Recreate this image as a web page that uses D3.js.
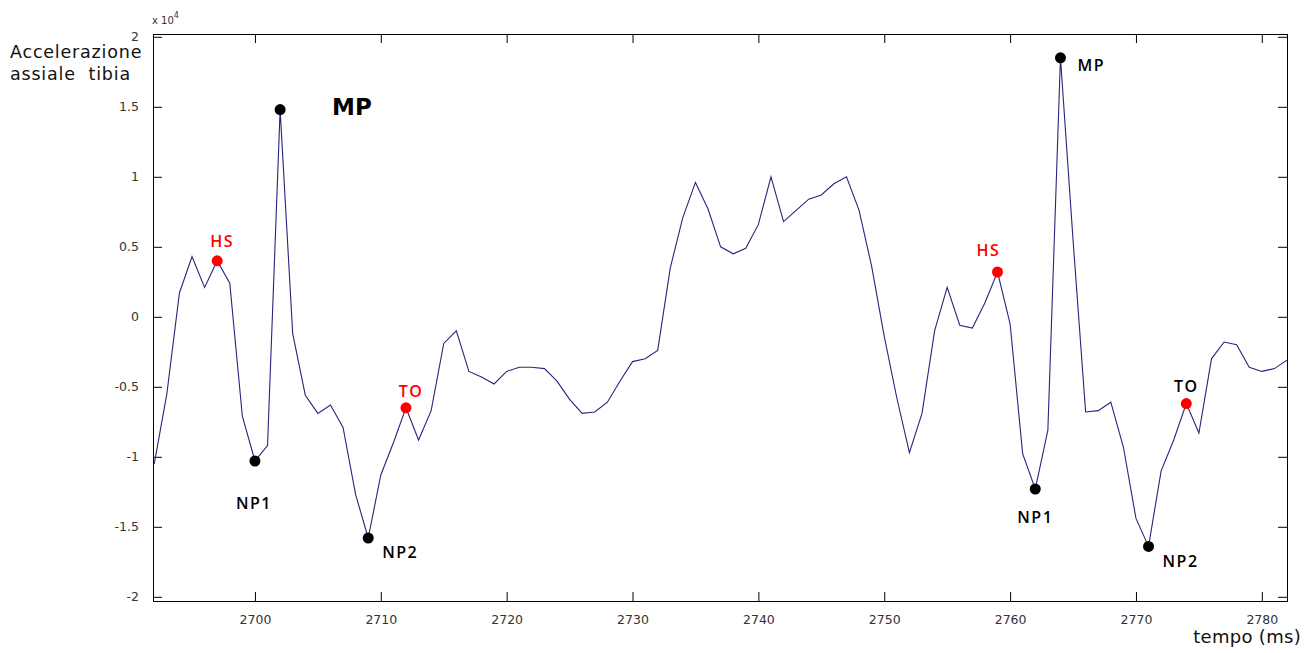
<!DOCTYPE html>
<html>
<head>
<meta charset="utf-8">
<script src="https://cdn.jsdelivr.net/npm/d3@7"></script>
<style>
  body { margin: 0; background: #fff; }
  svg { display: block; }
  .tick text { font-family: "DejaVu Sans", sans-serif; font-size: 12.5px; fill: #333; }
</style>
</head>
<body>
<script>
// sample times (ms) and acceleration values (x 10^4)
var times = [2692, 2693, 2694, 2695, 2696, 2697, 2698, 2699, 2700, 2701,
             2702, 2703, 2704, 2705, 2706, 2707, 2708, 2709, 2710, 2711,
             2712, 2713, 2714, 2715, 2716, 2717, 2718, 2719, 2720, 2721,
             2722, 2723, 2724, 2725, 2726, 2727, 2728, 2729, 2730, 2731,
             2732, 2733, 2734, 2735, 2736, 2737, 2738, 2739, 2740, 2741,
             2742, 2743, 2744, 2745, 2746, 2747, 2748, 2749, 2750, 2751,
             2752, 2753, 2754, 2755, 2756, 2757, 2758, 2759, 2760, 2761,
             2762, 2763, 2764, 2765, 2766, 2767, 2768, 2769, 2770, 2771,
             2772, 2773, 2774, 2775, 2776, 2777, 2778, 2779, 2780, 2781, 2782];
var accel = [-1.05, -0.55, 0.17, 0.43, 0.21, 0.40, 0.24, -0.71, -1.03, -0.92,
             1.48, -0.12, -0.56, -0.69, -0.63, -0.79, -1.27, -1.58, -1.13, -0.90,
             -0.65, -0.88, -0.67, -0.19, -0.10, -0.39, -0.43, -0.48, -0.39, -0.36,
             -0.36, -0.37, -0.46, -0.59, -0.69, -0.68, -0.61, -0.46, -0.32, -0.30,
             -0.24, 0.35, 0.71, 0.96, 0.77, 0.50, 0.45, 0.49, 0.66, 1.00,
             0.68, 0.76, 0.84, 0.87, 0.95, 1.00, 0.76, 0.36, -0.14, -0.58,
             -0.97, -0.69, -0.10, 0.21, -0.06, -0.08, 0.10, 0.32, -0.05, -0.98,
             -1.23, -0.81, 1.85, 0.55, -0.68, -0.67, -0.61, -0.93, -1.44, -1.64,
             -1.10, -0.88, -0.62, -0.83, -0.30, -0.18, -0.20, -0.36, -0.39, -0.37, -0.31];

// gait events
var eventTimes = [2697, 2700, 2702, 2709, 2712, 2759, 2762, 2764, 2771, 2774];
var eventNames = ["HS", "NP1", "MP", "NP2", "TO", "HS", "NP1", "MP", "NP2", "TO"];

var xTicks = [2700, 2710, 2720, 2730, 2740, 2750, 2760, 2770, 2780];
var yTicks = [-2, -1.5, -1, -0.5, 0, 0.5, 1, 1.5, 2];

var width = 1310, height = 653;
var plot = {left: 153, right: 1287, top: 34, bottom: 601};

var svg = d3.select("body").append("svg")
    .attr("width", width)
    .attr("height", height);

var x = d3.scaleLinear().domain([2691.9, 2782]).range([plot.left, plot.right]);
var y = d3.scaleLinear().domain([-2.03, 2.02]).range([plot.bottom, plot.top]);

var data = times.map(function (t, i) { return {t: t, v: accel[i]}; });

//clip for the line
svg.append("clipPath").attr("id", "clip")
    .append("rect")
    .attr("x", plot.left).attr("y", plot.top)
    .attr("width", plot.right - plot.left).attr("height", plot.bottom - plot.top);

//axes (ticks inward, box all round)
var tk = 9;
svg.append("g")
    .attr("transform", "translate(0," + plot.bottom + ")")
    .call(d3.axisBottom(x).tickValues(xTicks).tickSize(-tk).tickPadding(14).tickFormat(String))
    .call(function (g) { g.select(".domain").remove(); });
svg.append("g")
    .attr("transform", "translate(" + plot.left + ",0)")
    .call(d3.axisLeft(y).tickValues(yTicks).tickSize(-tk).tickPadding(tk + 5).tickFormat(String))
    .call(function (g) { g.select(".domain").remove(); });
svg.append("g")
    .attr("transform", "translate(0," + plot.top + ")")
    .call(d3.axisTop(x).tickValues(xTicks).tickSize(-tk).tickFormat(""))
    .call(function (g) { g.select(".domain").remove(); });
svg.append("g")
    .attr("transform", "translate(" + plot.right + ",0)")
    .call(d3.axisRight(y).tickValues(yTicks).tickSize(-tk).tickFormat(""))
    .call(function (g) { g.select(".domain").remove(); });

svg.selectAll(".tick line").attr("stroke", "#000");

svg.append("rect")
    .attr("x", plot.left + 0.5).attr("y", plot.top + 0.5)
    .attr("width", plot.right - plot.left).attr("height", plot.bottom - plot.top)
    .attr("fill", "none")
    .attr("stroke", "#000")
    .attr("stroke-width", 1);

//signal line
var line = d3.line()
    .x(function (d) { return x(d.t); })
    .y(function (d) { return y(d.v); });

svg.append("path")
    .datum(data)
    .attr("clip-path", "url(#clip)")
    .attr("d", line)
    .attr("fill", "none")
    .attr("stroke", "#26267e")
    .attr("stroke-width", 1.1);

//event markers and labels
var labelOffsets = [
    {dx: 5, dy: -14, anchor: "middle"},
    {dx: -1, dy: 48, anchor: "middle"},
    {dx: 52, dy: 5, anchor: "start"},
    {dx: 14, dy: 20, anchor: "start"},
    {dx: 5, dy: -11, anchor: "middle"},
    {dx: -9, dy: -16, anchor: "middle"},
    {dx: 0, dy: 34, anchor: "middle"},
    {dx: 17, dy: 13, anchor: "start"},
    {dx: 14, dy: 21, anchor: "start"},
    {dx: 0, dy: -12, anchor: "middle"}
];

var events = eventTimes.map(function (t, i) {
    return {t: t, v: accel[times.indexOf(t)], name: eventNames[i], i: i};
});

svg.selectAll(".event")
    .data(events)
    .enter()
    .append("circle")
    .attr("class", "event")
    .attr("cx", function (d) { return x(d.t); })
    .attr("cy", function (d) { return y(d.v); })
    .attr("r", 5.5)
    .attr("fill", function (d) { return (d.name === "HS" || d.name === "TO") ? "#f00" : "#000"; });

svg.selectAll(".elabel")
    .data(events)
    .enter()
    .append("text")
    .attr("class", "elabel")
    .attr("x", function (d) { return x(d.t) + labelOffsets[d.i].dx; })
    .attr("y", function (d) { return y(d.v) + labelOffsets[d.i].dy; })
    .attr("text-anchor", function (d) { return labelOffsets[d.i].anchor; })
    .style("font-family", function (d) { return d.i === 2 ? "DejaVu Sans, sans-serif" : "Open Sans, sans-serif"; })
    .style("font-size", function (d) { return d.i === 2 ? "23px" : "16px"; })
    .style("font-weight", function (d) { return d.i === 2 ? "bold" : "600"; })
    .style("letter-spacing", function (d) { return d.i === 2 ? "0px" : "1.5px"; })
    .attr("fill", function (d) {
        if (d.i === 9) return "#000";
        return (d.name === "HS" || d.name === "TO") ? "#f00" : "#000";
    })
    .text(function (d) { return d.name; });

//axis labels
var ylab = svg.append("text")
    .attr("x", 10)
    .style("font-family", "DejaVu Sans, sans-serif")
    .style("font-size", "17.5px")
    .style("letter-spacing", "0.8px")
    .attr("fill", "#111");
ylab.append("tspan").attr("x", 10).attr("y", 58).text("Accelerazione");
ylab.append("tspan").attr("x", 10).attr("y", 80).attr("xml:space", "preserve").text("assiale  tibia");

svg.append("text")
    .attr("x", 1301)
    .attr("y", 643)
    .attr("text-anchor", "end")
    .style("font-family", "DejaVu Sans, sans-serif")
    .style("font-size", "18px")
    .style("letter-spacing", "0.3px")
    .attr("fill", "#111")
    .text("tempo (ms)");

//exponent
var expo = svg.append("text")
    .attr("x", 152)
    .attr("y", 24)
    .style("font-family", "DejaVu Sans, sans-serif")
    .style("font-size", "10px")
    .attr("fill", "#333");
expo.append("tspan").text("x 10");
expo.append("tspan").attr("dy", -6).style("font-size", "8px").text("4");
</script>
</body>
</html>
